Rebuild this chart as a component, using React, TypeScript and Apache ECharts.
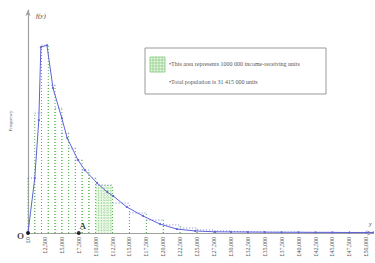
import React, { useEffect, useRef } from "react";
import * as echarts from "echarts";

// Histogram bins (income in £, frequency in thousand units per £1,000)
const binStart = [0, 1000, 2000, 3000, 4000, 5000, 6000, 7000, 8000, 9000, 10000, 12500, 15000, 17500, 20000, 22500, 25000, 27500, 30000, 32500, 35000, 37500, 40000, 42500, 45000, 47500];
const binEnd = [1000, 2000, 3000, 4000, 5000, 6000, 7000, 8000, 9000, 10000, 12500, 15000, 17500, 20000, 22500, 25000, 27500, 30000, 32500, 35000, 37500, 40000, 42500, 45000, 47500, 50000];
const binHeight = [458, 1000, 1566, 1233, 1041, 833, 708, 608, 525, 458, 400, 250, 167, 108, 67, 42, 25, 17, 12, 10, 8, 8, 6, 6, 5, 5];
const highlightBin = 10;

// Smooth density curve f(y)
const curveX = [0, 1000, 1600, 1900, 2800, 3700, 5000, 5800, 7400, 8400, 10200, 11700, 12600, 14600, 17000, 19500, 22000, 24700, 27700, 30000, 32500, 35000, 37500, 40000, 42500, 45000, 47500, 50000, 51000];
const curveY = [0, 458, 941, 1550, 1566, 1208, 958, 791, 608, 525, 417, 342, 308, 217, 142, 75, 33, 17, 10, 9, 8, 7, 6, 6, 5, 5, 4, 4, 4];

// Marked points on the axis
const pointX = [0, 7500];
const pointName = ["O", "A"];

const tickStep = 2500;
const xMax = 51000;
const yMax = 1860;

const legendLines = [
  "•This area represents 1000 000 income-receiving units",
  "•Total population is 31 415 000 units",
];

const SERIF = "'Liberation Serif', 'Times New Roman', serif";
const GREEN = "#55b84f";
const BLUE = "#5f63d6";

function fmtPound(v: number) {
  return "£" + v.toLocaleString("en-GB");
}

export default function App() {
  const ref = useRef<HTMLDivElement>(null);
  useEffect(() => {
    if (!ref.current) return;
    const chart = echarts.init(ref.current, null, { renderer: "svg" });

    const binData = binStart.map((s, i) => [s, binEnd[i], binHeight[i], i === highlightBin ? 1 : 0]);

    // legend icon grid
    const iconX = 150, iconY = 57, iconW = 15, iconH = 15;
    const icon: any[] = [
      { type: "rect", z: 20, shape: { x: iconX, y: iconY, width: iconW, height: iconH }, style: { fill: "#e6f6e1", stroke: "#7cc877", lineWidth: 0.8 } },
    ];
    for (let k = 1; k < 5; k++) {
      icon.push({ type: "line", z: 21, shape: { x1: iconX + k * 3, y1: iconY, x2: iconX + k * 3, y2: iconY + iconH }, style: { stroke: "#7cc877", lineWidth: 0.6 } });
      icon.push({ type: "line", z: 21, shape: { x1: iconX, y1: iconY + k * 3, x2: iconX + iconW, y2: iconY + k * 3 }, style: { stroke: "#7cc877", lineWidth: 0.6 } });
    }

    const option: any = {
      animation: false,
      grid: { left: 28, right: 2, top: 10, bottom: 30 },
      xAxis: {
        type: "value",
        min: 0,
        max: xMax,
        interval: tickStep,
        splitLine: { show: false },
        axisTick: { show: false },
        axisLine: { show: true, lineStyle: { color: "#a0a0a0", width: 1.2 }, symbol: ["none", "arrow"], symbolSize: [4, 6] },
        axisLabel: {
          rotate: 90,
          fontSize: 6,
          fontFamily: SERIF,
          color: "#555",
          margin: 4,
          showMaxLabel: false,
          formatter: (v: number) => (v % tickStep === 0 && v <= 50000 ? fmtPound(v) : ""),
        },
      },
      yAxis: {
        type: "value",
        min: 0,
        max: yMax,
        splitLine: { show: false },
        axisTick: { show: false },
        axisLabel: { show: false },
        axisLine: { show: true, lineStyle: { color: "#a0a0a0", width: 1.2 }, symbol: ["none", "arrow"], symbolSize: [4, 6] },
      },
      series: [
        {
          type: "custom",
          data: binData,
          encode: { x: [0, 1], y: 2 },
          z: 2,
          renderItem: (params: any, api: any) => {
            const x0 = api.value(0), x1 = api.value(1), h = api.value(2), hl = api.value(3);
            const p0 = api.coord([x0, 0]);
            const p1 = api.coord([x1, h]);
            const children: any[] = [];
            if (hl) {
              children.push({ type: "rect", shape: { x: p0[0], y: p1[1], width: p1[0] - p0[0], height: p0[1] - p1[1] }, style: { fill: "#eef9ea" } });
              for (let xx = p0[0] + 3; xx < p1[0]; xx += 3) {
                children.push({ type: "line", shape: { x1: xx, y1: p1[1], x2: xx, y2: p0[1] }, style: { stroke: GREEN, lineWidth: 0.7, lineDash: [1, 1.5], opacity: 0.8 } });
              }
              for (let yy = p1[1] + 3; yy < p0[1]; yy += 3) {
                children.push({ type: "line", shape: { x1: p0[0], y1: yy, x2: p1[0], y2: yy }, style: { stroke: GREEN, lineWidth: 0.7, lineDash: [1, 1.5], opacity: 0.8 } });
              }
            }
            children.push({ type: "line", shape: { x1: p0[0], y1: p0[1], x2: p0[0], y2: p1[1] }, style: { stroke: GREEN, lineWidth: 1, lineDash: [1, 2] } });
            children.push({ type: "line", shape: { x1: p1[0], y1: p0[1], x2: p1[0], y2: p1[1] }, style: { stroke: GREEN, lineWidth: 1, lineDash: [1, 2] } });
            children.push({ type: "line", shape: { x1: p0[0], y1: p1[1], x2: p1[0], y2: p1[1] }, style: { stroke: BLUE, lineWidth: 1, lineDash: [1, 2], opacity: 0.8 } });
            return { type: "group", children };
          },
        },
        {
          type: "line",
          data: curveX.map((x, i) => [x, curveY[i]]),
          z: 3,
          symbol: "circle",
          symbolSize: 2,
          showSymbol: true,
          itemStyle: { color: BLUE },
          lineStyle: { color: BLUE, width: 1 },
        },
        {
          type: "scatter",
          z: 5,
          symbolSize: 4,
          itemStyle: { color: "#000" },
          data: pointX.map((x, i) => ({
            value: [x, 0],
            name: pointName[i],
            label: {
              show: true,
              formatter: pointName[i],
              position: i === 0 ? "left" : "top",
              offset: i === 0 ? [3, 3] : [4, 4],
              fontFamily: SERIF,
              fontWeight: "bold",
              fontSize: 9,
              color: "#111",
            },
          })),
        },
      ],
      graphic: [
        { type: "text", left: 36, top: 12, style: { text: "f(y)", font: `italic 7px ${SERIF}`, fill: "#444" } },
        { type: "text", left: 369, top: 221, style: { text: "y", font: `italic 6px ${SERIF}`, fill: "#444" } },
        { type: "text", x: 10, y: 121, rotation: Math.PI / 2, style: { text: "Frequency", font: `5px ${SERIF}`, fill: "#555", align: "center", verticalAlign: "middle" } },
        { type: "rect", shape: { x: 145, y: 48, width: 181, height: 46 }, style: { fill: "#fff", stroke: "#9a9a9a", lineWidth: 1 }, z: 10 },
        ...icon,
        { type: "text", x: 169, y: 64, z: 11, style: { text: legendLines[0], font: `6px ${SERIF}`, fill: "#555", verticalAlign: "middle" } },
        { type: "text", x: 169, y: 82, z: 11, style: { text: legendLines[1], font: `6px ${SERIF}`, fill: "#555", verticalAlign: "middle" } },
      ],
    };
    chart.setOption(option);
    return () => chart.dispose();
  }, []);
  return <div ref={ref} style={{ position: "fixed", left: 0, top: 0, width: 375, height: 263, background: "#fff" }} />;
}
